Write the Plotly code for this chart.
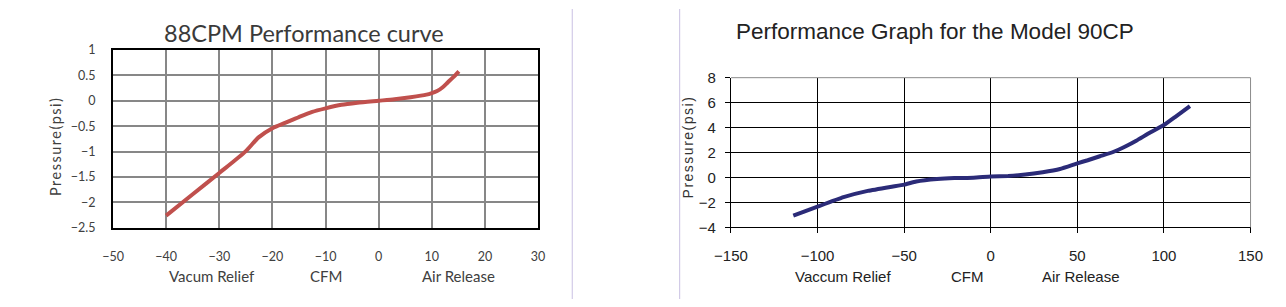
import plotly.graph_objects as go

W, H = 1286, 307

# ---- Data: 88CPM Performance curve (left) ----
cfm_88 = [-40, -35, -30, -25, -22.6, -20, -17.5, -15, -12.5, -10, -7, -4, 0, 3, 6, 9, 10, 11, 12, 13, 14, 15.1]
psi_88 = [-2.26, -1.84, -1.42, -0.99, -0.72, -0.54, -0.43, -0.32, -0.22, -0.15, -0.08, -0.04, 0.0, 0.03, 0.07, 0.12,
          0.15, 0.19, 0.26, 0.36, 0.46, 0.58]
x_ticks_88 = [-50, -40, -30, -20, -10, 0, 10, 20, 30]
y_ticks_88 = [-2.5, -2, -1.5, -1, -0.5, 0, 0.5, 1]

# ---- Data: Performance Graph for the Model 90CP (right) ----
cfm_90 = [-114, -100, -85, -71, -58, -50, -43, -31, -21, -10, 0, 10, 20, 30, 40, 50, 56, 63, 71, 78, 84, 92, 100, 107, 115]
psi_90 = [-3.07, -2.34, -1.58, -1.08, -0.76, -0.58, -0.33, -0.13, -0.05, -0.02, 0.08, 0.12, 0.23, 0.42, 0.68, 1.13,
          1.38, 1.70, 2.06, 2.50, 2.94, 3.60, 4.20, 4.90, 5.72]
x_ticks_90 = [-150, -100, -50, 0, 50, 100, 150]
y_ticks_90 = [-4, -2, 0, 2, 4, 6, 8]

fig = go.Figure()
fig.add_trace(go.Scatter(x=cfm_88, y=psi_88, mode="lines", xaxis="x", yaxis="y",
                         line=dict(color="#C0504D", width=4, shape="spline", smoothing=0.7),
                         showlegend=False, hoverinfo="skip"))
fig.add_trace(go.Scatter(x=cfm_90, y=psi_90, mode="lines", xaxis="x2", yaxis="y2",
                         line=dict(color="#2B2B78", width=4, shape="spline", smoothing=0.4),
                         showlegend=False, hoverinfo="skip"))

def px(x):
    return x / W

def py(y):
    return 1 - y / H

calibri_like = "Lato, 'Open Sans', sans-serif"
arial_like = "'Liberation Sans', Arial, sans-serif"

fig.update_layout(
    width=W, height=H, margin=dict(l=0, r=0, t=0, b=0),
    paper_bgcolor="white", plot_bgcolor="white",
    xaxis=dict(domain=[px(98.3), px(533.5)], range=[-50, 30], tickvals=x_ticks_88,
               showgrid=True, gridcolor="#878787", gridwidth=2, zeroline=False,
               showline=True, linecolor="black", linewidth=2, mirror=True,
               ticks="", ticklabelstandoff=16,
               tickfont=dict(family=calibri_like, size=12.5, color="#404040"), fixedrange=True),
    yaxis=dict(domain=[py(231.7), py(43.3)], range=[-2.5, 1], tickvals=y_ticks_88,
               showgrid=True, gridcolor="#878787", gridwidth=2, zeroline=False,
               showline=True, linecolor="black", linewidth=2, mirror=True,
               ticks="", ticklabelstandoff=13,
               tickfont=dict(family=calibri_like, size=12.5, color="#404040"), fixedrange=True),
    xaxis2=dict(domain=[px(731), px(1263)], range=[-150, 150], tickvals=x_ticks_90, anchor="y2",
                showgrid=True, gridcolor="black", gridwidth=1, zeroline=False,
                showline=True, linecolor="black", linewidth=1, mirror=False,
                ticks="outside", ticklen=5, tickcolor="black", tickwidth=1, ticklabelstandoff=10,
                tickfont=dict(family=arial_like, size=15, color="#222222"), fixedrange=True),
    yaxis2=dict(domain=[py(231.1), py(72.7)], range=[-4, 8], tickvals=y_ticks_90, anchor="x2",
                showgrid=True, gridcolor="black", gridwidth=1, zeroline=False,
                showline=True, linecolor="black", linewidth=1, mirror=False,
                ticks="outside", ticklen=5, tickcolor="black", tickwidth=1, ticklabelstandoff=6,
                tickfont=dict(family=arial_like, size=15, color="#222222"), fixedrange=True),
)

shapes = [
    # divider lines
    dict(type="line", xref="paper", yref="paper", x0=px(568.5), x1=px(568.5), y0=0, y1=1,
         line=dict(color="#C9C0E3", width=1)),
    dict(type="line", xref="paper", yref="paper", x0=px(678.5), x1=px(678.5), y0=0, y1=1,
         line=dict(color="#C9C0E3", width=1)),
    # right chart grey frame top/right
    dict(type="line", xref="x2 domain", yref="y2 domain", x0=0, x1=1, y0=1, y1=1,
         line=dict(color="#8C8C8C", width=1), layer="above"),
    dict(type="line", xref="x2 domain", yref="y2 domain", x0=1, x1=1, y0=0, y1=1,
         line=dict(color="#8C8C8C", width=1), layer="above"),
]
fig.update_layout(shapes=shapes)

ann = []
def add(text, x, y, font, size, color, angle=0, xanchor="center"):
    ann.append(dict(text=text, x=px(x), y=py(y), xref="paper", yref="paper", showarrow=False,
                    xanchor=xanchor, yanchor="middle", textangle=angle,
                    font=dict(family=font, size=size, color=color)))

add("88CPM Performance curve", 294, 25.5, calibri_like, 23.5, "#3A3A3A")
add('<span style="letter-spacing:1.5px">Pressure(psi)</span>', 40, 145, calibri_like, 14.5, "#404040", angle=-90)
add("Vacum Relief", 199.5, 283, calibri_like, 15, "#404040")
add("CFM", 316, 283, calibri_like, 15, "#404040")
add("Air Release", 452, 283, calibri_like, 15, "#404040")

add("Performance Graph for the Model 90CP", 734, 24, arial_like, 22.5, "#222222", xanchor="left")
add('<span style="letter-spacing:1.5px">Pressure(psi)</span>', 687, 145.5, arial_like, 14, "#333333", angle=-90)
add("Vaccum Relief", 846, 283, arial_like, 15, "#222222")
add("CFM", 972.7, 283, arial_like, 15, "#222222")
add("Air Release", 1089, 283, arial_like, 15, "#222222")

fig.update_layout(annotations=ann)

fig.write_html("out.html", config={"displayModeBar": False})
